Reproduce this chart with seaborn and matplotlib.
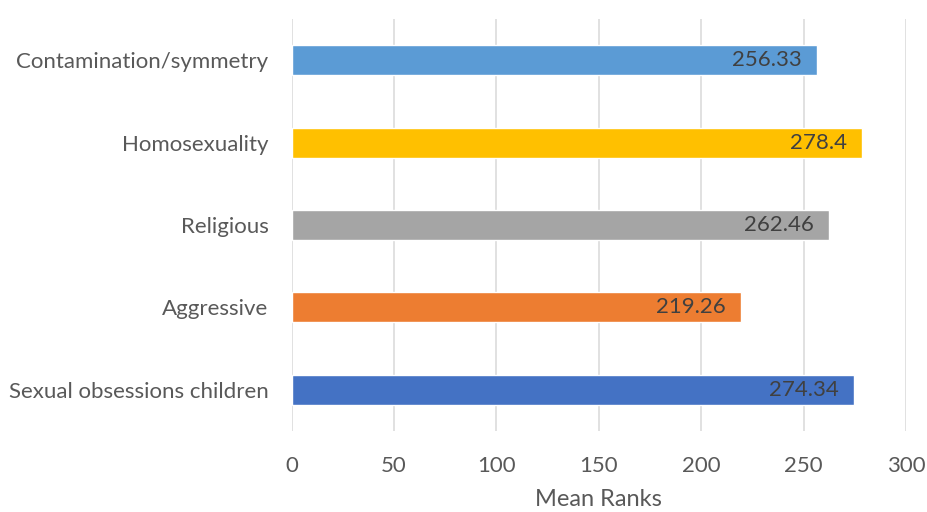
import matplotlib
matplotlib.use("Agg")
import matplotlib.pyplot as plt
import seaborn as sns
import pandas as pd

categories = ["Contamination/symmetry", "Homosexuality", "Religious",
              "Aggressive", "Sexual obsessions children"]
mean_ranks = [256.33, 278.4, 262.46, 219.26, 274.34]
value_labels = ["256.33", "278.4", "262.46", "219.26", "274.34"]
colors = ["#5B9BD5", "#FFC000", "#A5A5A5", "#ED7D31", "#4472C4"]
x_ticks = [0, 50, 100, 150, 200, 250, 300]

sns.set_theme(style="white")
plt.rcParams["font.family"] = ["Lato", "DejaVu Sans"]

df = pd.DataFrame({"category": categories, "rank": mean_ranks})

fig = plt.figure(figsize=(9.27, 5.12), dpi=100)
ax = fig.add_axes([0.3145, 0.158, 0.663, 0.805])

sns.barplot(data=df, y="category", x="rank", hue="category",
            palette=colors, order=categories, hue_order=categories,
            width=0.364, legend=False, ax=ax, saturation=1)

ax.set_xlim(0, 300)
ax.set_xticks(x_ticks)
ax.set_xticklabels([str(t) for t in x_ticks])
ax.xaxis.grid(True, color="#D9D9D9", linewidth=1.1)
ax.set_axisbelow(True)
for s in ax.spines.values():
    s.set_visible(False)

ax.set_ylabel("")
ax.set_xlabel("Mean Ranks", fontsize=17, color="#595959", labelpad=9)
ax.tick_params(axis="both", length=0, labelsize=16, labelcolor="#595959")
ax.tick_params(axis="x", pad=18)
ax.tick_params(axis="y", pad=16.5)

for i, (v, lab) in enumerate(zip(mean_ranks, value_labels)):
    ax.annotate(lab, xy=(v, i), xytext=(-11, 0), textcoords="offset points",
                ha="right", va="center", fontsize=16, color="#404040")

fig.savefig("out.png", dpi=100)
